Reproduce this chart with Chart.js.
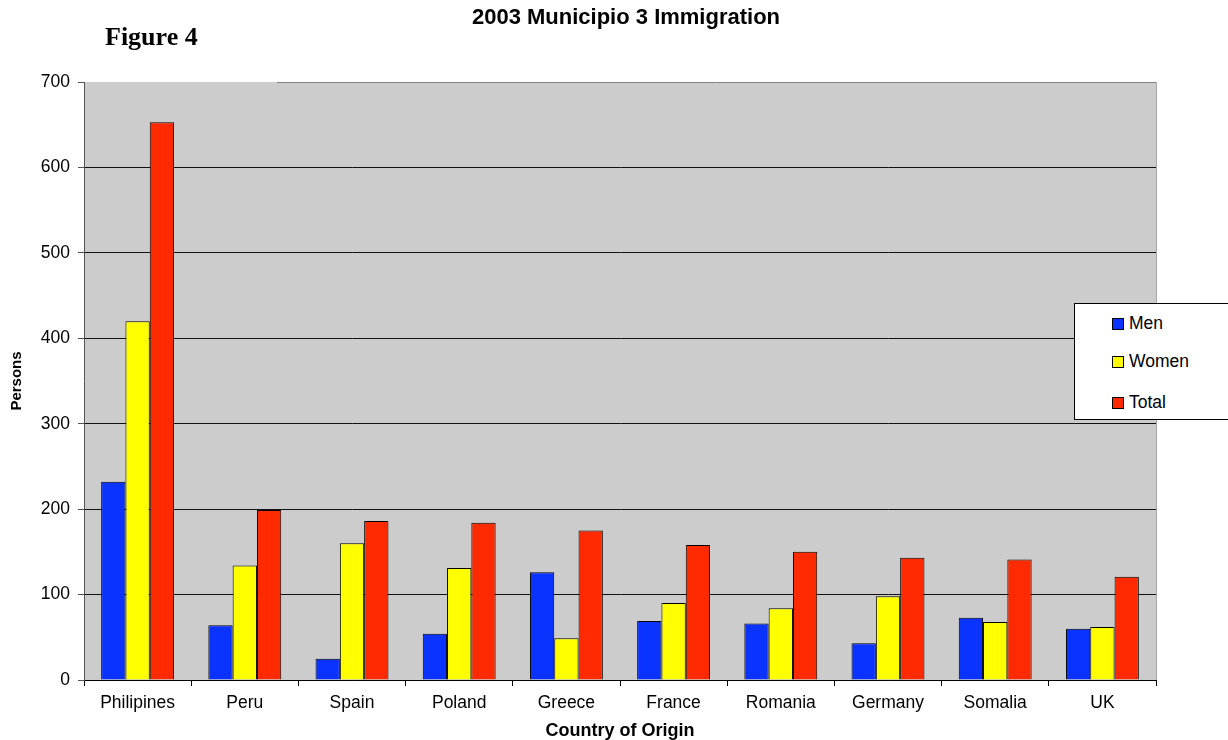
<!DOCTYPE html>
<html>
<head>
<meta charset="utf-8">
<script src="https://cdn.jsdelivr.net/npm/chart.js@4/dist/chart.umd.min.js"></script>
<style>
  html, body { margin: 0; padding: 0; background: #fff; width: 1228px; height: 740px; overflow: hidden; }
  #wrap { position: relative; width: 1228px; height: 740px; }
  #chart { position: absolute; left: 0; top: 0; }
  #fig { position: absolute; left: 105px; top: 22px; font: bold 26px "Liberation Serif", serif; color: #000; white-space: nowrap; }
  #legend { position: absolute; left: 1074px; top: 303px; width: 170px; height: 117px; background: #fff; border: 1px solid #000; box-sizing: border-box; }
  .item { position: absolute; left: 37px; height: 20px; line-height: 20px; font: 17.5px "Liberation Sans", Arial, sans-serif; color: #000; white-space: nowrap; }
  .sw { display: inline-block; width: 10px; height: 10px; border: 1px solid #000; margin-right: 5px; vertical-align: -1px; }
</style>
</head>
<body>
<div id="wrap">
  <canvas id="chart" width="1228" height="740"></canvas>
  <div id="fig">Figure 4</div>
  <div id="legend"></div>
</div>
<script>
const categories = ["Philipines", "Peru", "Spain", "Poland", "Greece", "France", "Romania", "Germany", "Somalia", "UK"];
const menValues   = [232, 64, 25, 54, 126, 69, 66, 43, 73, 60];
const womenValues = [420, 134, 160, 131, 49, 90, 84, 98, 68, 62];
const totalValues = [653, 199, 186, 184, 175, 158, 150, 143, 141, 121];
const seriesNames = ["Men", "Women", "Total"];
const yTicks = [0, 100, 200, 300, 400, 500, 600, 700];

const FONT = '"Liberation Sans", Arial, sans-serif';
const colors = ["#0b33ff", "#ffff00", "#ff2a00"];

const plotDecor = {
  id: 'plotDecor',
  beforeDraw(chart) {
    const a = chart.chartArea, ctx = chart.ctx;
    ctx.save();
    ctx.fillStyle = '#cccccc';
    ctx.fillRect(a.left, a.top, a.right - a.left, a.bottom - a.top);
    ctx.restore();
  },
  afterDraw(chart) {
    const a = chart.chartArea, ctx = chart.ctx;
    ctx.save();
    ctx.lineWidth = 1;
    ctx.strokeStyle = '#808080';
    ctx.beginPath();
    ctx.moveTo(277, Math.round(a.top) + 0.5);
    ctx.lineTo(a.right, Math.round(a.top) + 0.5);
    ctx.stroke();
    ctx.strokeStyle = '#a8a8a8';
    ctx.beginPath();
    ctx.moveTo(Math.round(a.right) + 0.5, a.top);
    ctx.lineTo(Math.round(a.right) + 0.5, a.bottom);
    ctx.stroke();
    ctx.restore();
  },
  afterLayout(chart) {
    if (chart.titleBlock) {
      chart.titleBlock.left = 24;
      chart.titleBlock.right = 1228;
    }
  }
};

const chart = new Chart(document.getElementById('chart'), {
  type: 'bar',
  data: {
    labels: categories,
    datasets: [
      { label: seriesNames[0], data: menValues, backgroundColor: colors[0] },
      { label: seriesNames[1], data: womenValues, backgroundColor: colors[1] },
      { label: seriesNames[2], data: totalValues, backgroundColor: colors[2] }
    ]
  },
  options: {
    responsive: false,
    animation: false,
    devicePixelRatio: 1,
    layout: { padding: { left: 0, right: 72, top: 0, bottom: 0 } },
    datasets: {
      bar: { borderColor: '#000', borderWidth: 1, categoryPercentage: 0.68, barPercentage: 1.0 }
    },
    plugins: {
      legend: { display: false },
      tooltip: { enabled: false },
      title: {
        display: true,
        text: '2003 Municipio 3 Immigration',
        color: '#000',
        font: { family: FONT, size: 22, weight: 'bold' },
        padding: { top: 5, bottom: 50.6 }
      }
    },
    scales: {
      x: {
        type: 'category',
        grid: { offset: true, drawOnChartArea: false, drawTicks: true, tickLength: 6, color: '#000' },
        border: { display: true, color: '#000', width: 1 },
        ticks: { color: '#000', font: { family: FONT, size: 17.5 }, padding: 7, maxRotation: 0, autoSkip: false },
        title: { display: true, text: 'Country of Origin', color: '#000', font: { family: FONT, size: 18, weight: 'bold' }, padding: { top: 0, bottom: -2 } },
        afterFit(s) { s.height = 60; }
      },
      y: {
        min: 0, max: 700,
        afterBuildTicks(s) { s.ticks = yTicks.map(v => ({ value: v })); },
        grid: {
          color: (c) => (c.tick && c.tick.value === 700) ? 'rgba(0,0,0,0)' : '#111',
          tickColor: '#555',
          tickLength: 6,
          lineWidth: 1
        },
        border: { display: true, color: '#555', width: 1 },
        ticks: { color: '#000', font: { family: FONT, size: 17.5 }, padding: 8 },
        title: { display: true, text: 'Persons', color: '#000', font: { family: FONT, size: 15, weight: 'bold' }, padding: { top: 8, bottom: 0 } },
        afterFit(s) { s.width = 84; }
      }
    }
  },
  plugins: [plotDecor]
});

// legend built from the datasets
const legendEl = document.getElementById('legend');
const rowTops = [9, 47, 88];
chart.data.datasets.forEach((ds, i) => {
  const d = document.createElement('div');
  d.className = 'item';
  d.style.top = rowTops[i] + 'px';
  const sw = document.createElement('span');
  sw.className = 'sw';
  sw.style.background = ds.backgroundColor;
  d.appendChild(sw);
  d.appendChild(document.createTextNode(ds.label));
  legendEl.appendChild(d);
});
</script>
</body>
</html>
